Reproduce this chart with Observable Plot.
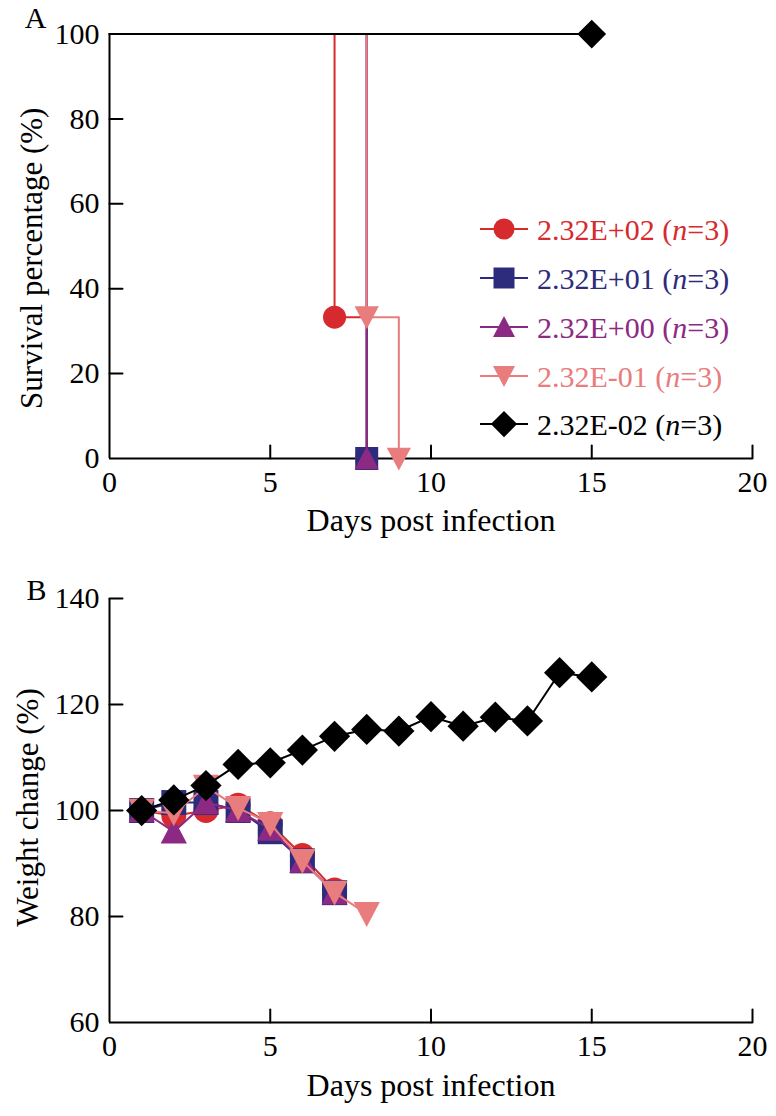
<!DOCTYPE html>
<html><head><meta charset="utf-8">
<script src="https://cdn.jsdelivr.net/npm/d3@7"></script>
<script src="https://cdn.jsdelivr.net/npm/@observablehq/plot@0.6"></script>
<style>
body{margin:0;background:#fff;}
#wrap{width:776px;}
#wrap svg{display:block;}
</style></head><body><div id="wrap"></div>
<script>
// ---------- data ----------
const seriesNames = ["2.32E+02", "2.32E+01", "2.32E+00", "2.32E-01", "2.32E-02"];
const seriesN = [3, 3, 3, 3, 3];
const seriesColors = ["#d62a2e", "#2d2c7c", "#8c2a83", "#e97c7c", "#000000"];

// Survival (Kaplan–Meier steps): day and percentage
const survDays_E02 = [0, 7, 8];     const survPct_E02 = [100, 33.3, 0];
const survDays_E01 = [0, 8];        const survPct_E01 = [100, 0];
const survDays_E00 = [0, 8];        const survPct_E00 = [100, 0];
const survDays_Em01 = [0, 8, 9];    const survPct_Em01 = [100, 33.3, 0];
const survDays_Em02 = [0, 15];      const survPct_Em02 = [100, 100];

// Weight change (%) by day post infection
const weightDays = [1, 2, 3, 4, 5, 6, 7, 8, 9, 10, 11, 12, 13, 14, 15];
const weight_E02 = [100, 99, 100, 101, 97.5, 91.5, 85];
const weight_E01 = [100, 101.5, 101.5, 100, 96, 90.5, 84.5];
const weight_E00 = [100, 96, 101.5, 100, 96.5, 90.5, 84.5];
const weight_Em01 = [100, 99.5, 104.5, 100.5, 97.5, 90.5, 84.5, 80.5];
const weight_Em02 = [100, 102, 104.7, 108.7, 109, 111.4, 114, 115.3, 115, 117.7, 115.9, 117.6, 116.9, 126, 125.2];

const xTicks = [0, 5, 10, 15, 20];
const yTicksA = [0, 20, 40, 60, 80, 100];
const yTicksB = [60, 80, 100, 120, 140];

// ---------- symbols ----------
const rOf = s => Math.sqrt(s / Math.PI);
const symCircle = {draw(c, s) { const r = rOf(s); c.moveTo(r, 0); c.arc(0, 0, r, 0, 2 * Math.PI); }};
const symSquare = {draw(c, s) { const r = rOf(s); c.rect(-r, -r, 2 * r, 2 * r); }};
const symTriUp = {draw(c, s) { const r = rOf(s) * 1.05; c.moveTo(0, -r); c.lineTo(r, r * 0.9); c.lineTo(-r, r * 0.9); c.closePath(); }};
const symTriDown = {draw(c, s) { const r = rOf(s) * 1.05; c.moveTo(-r, -r * 0.9); c.lineTo(r, -r * 0.9); c.lineTo(0, r); c.closePath(); }};
const symDiamond = {draw(c, s) { const k = rOf(s) * 1.25; c.moveTo(0, -k); c.lineTo(k, 0); c.lineTo(0, k); c.lineTo(-k, 0); c.closePath(); }};
const seriesSymbols = [symCircle, symSquare, symTriUp, symTriDown, symDiamond];
const tickShape = {draw(c, l) { c.moveTo(0, 0); c.lineTo(0, -l); }};

const survDaysList = [survDays_E02, survDays_E01, survDays_E00, survDays_Em01, survDays_Em02];
const survPctList = [survPct_E02, survPct_E01, survPct_E00, survPct_Em01, survPct_Em02];
const weightList = [weight_E02, weight_E01, weight_E00, weight_Em01, weight_Em02];

const FONT = "Liberation Serif";
const W = 776;

function axisMarks(yTicks, yMin, padX, padY) {
  return [
    Plot.ruleX([0], {stroke: "black", strokeWidth: 2}),
    Plot.ruleY([yMin], {stroke: "black", strokeWidth: 2}),
    Plot.vector(xTicks.filter(d => d > 0), {x: d => d, y: () => yMin, length: 13, rotate: 0, anchor: "start", shape: tickShape, stroke: "black", strokeWidth: 2}),
    Plot.vector(yTicks.filter(d => d > yMin), {x: () => 0, y: d => d, length: 13, rotate: 90, anchor: "start", shape: tickShape, stroke: "black", strokeWidth: 2}),
    Plot.axisX({ticks: xTicks, tickSize: 0, tickPadding: padX, label: null, tickFormat: d => d, fontFamily: FONT}),
    Plot.axisY({ticks: yTicks, tickSize: 0, tickPadding: padY, label: null, tickFormat: d => d, fontFamily: FONT})
  ];
}

// ---------- Panel A ----------
const marksA = [];
seriesNames.forEach((name, i) => {
  const rows = survDaysList[i].map((d, j) => ({day: d, pct: survPctList[i][j], j}));
  marksA.push(Plot.line(rows, {x: "day", y: "pct", curve: "step-after", stroke: seriesColors[i], strokeWidth: 2}));
});
seriesNames.forEach((name, i) => {
  const rows = survDaysList[i].map((d, j) => ({day: d, pct: survPctList[i][j], j})).filter(d => d.j > 0);
  marksA.push(Plot.dot(rows, {x: "day", y: "pct", symbol: seriesSymbols[i], r: 11.5, fill: seriesColors[i], stroke: "none"}));
});

const plotA = Plot.plot({
  width: W, height: 560,
  marginLeft: 109, marginRight: 24, marginTop: 33.5, marginBottom: 102,
  style: {fontSize: "30px", color: "black", background: "white", overflow: "visible"},
  x: {domain: [0, 20]},
  y: {domain: [0, 100]},
  marks: [
    ...axisMarks(yTicksA, 0, 12, 10),
    ...marksA,
    Plot.text(["A"], {frameAnchor: "top-left", dx: -74, dy: -15.5, textAnchor: "middle", lineAnchor: "middle", fontSize: 30, fontFamily: FONT}),
    Plot.text(["Survival percentage (%)"], {frameAnchor: "left", rotate: -90, dx: -77, dy: 12, textAnchor: "middle", lineAnchor: "middle", fontSize: 31, fontFamily: FONT}),
    Plot.text(["Days post infection"], {frameAnchor: "bottom", dy: 62, textAnchor: "middle", lineAnchor: "middle", fontSize: 32, fontFamily: FONT})
  ]
});

// legend
const svgA = d3.select(plotA);
const legY = [229, 278, 327, 376, 424];
const lg = svgA.append("g").attr("font-family", FONT).attr("font-size", 30).attr("text-anchor", "start");
seriesNames.forEach((name, i) => {
  const g = lg.append("g").attr("transform", `translate(0,${legY[i]})`);
  g.append("line").attr("x1", 480).attr("x2", 528).attr("y1", 0).attr("y2", 0).attr("stroke", seriesColors[i]).attr("stroke-width", 2);
  g.append("path").attr("transform", "translate(504,0)").attr("d", d3.symbol(seriesSymbols[i], Math.PI * 10.5 * 10.5)()).attr("fill", seriesColors[i]);
  const t = g.append("text").attr("x", 537).attr("y", 0).attr("dy", "0.35em").attr("text-anchor", "start").attr("font-family", FONT).attr("fill", seriesColors[i]);
  t.append("tspan").text(name + " (");
  t.append("tspan").attr("font-style", "italic").text("n");
  t.append("tspan").text("=" + seriesN[i] + ")");
});

// ---------- Panel B ----------
const marksB = [];
seriesNames.forEach((name, i) => {
  const rows = weightList[i].map((v, j) => ({day: weightDays[j], w: v}));
  marksB.push(Plot.line(rows, {x: "day", y: "w", stroke: seriesColors[i], strokeWidth: 2}));
  marksB.push(Plot.dot(rows, {x: "day", y: "w", symbol: seriesSymbols[i], r: 12.5, fill: seriesColors[i], stroke: "none"}));
});

const plotB = Plot.plot({
  width: W, height: 556,
  marginLeft: 109, marginRight: 24, marginTop: 38, marginBottom: 94,
  style: {fontSize: "30px", color: "black", background: "white", overflow: "visible"},
  x: {domain: [0, 20]},
  y: {domain: [60, 140]},
  marks: [
    ...axisMarks(yTicksB, 60, 12, 10),
    ...marksB,
    Plot.text(["B"], {frameAnchor: "top-left", dx: -73, dy: -8, textAnchor: "middle", lineAnchor: "middle", fontSize: 30, fontFamily: FONT}),
    Plot.text(["Weight change (%)"], {frameAnchor: "left", rotate: -90, dx: -81, dy: -3, textAnchor: "middle", lineAnchor: "middle", fontSize: 31, fontFamily: FONT}),
    Plot.text(["Days post infection"], {frameAnchor: "bottom", dy: 63, textAnchor: "middle", lineAnchor: "middle", fontSize: 32, fontFamily: FONT})
  ]
});

for (const p of [plotA, plotB]) {
  d3.select(p).attr("font-family", FONT).style("font-family", FONT);
  d3.select(p).selectAll("text, tspan").attr("font-family", FONT);
}

document.getElementById("wrap").append(plotA, plotB);
</script></body></html>
